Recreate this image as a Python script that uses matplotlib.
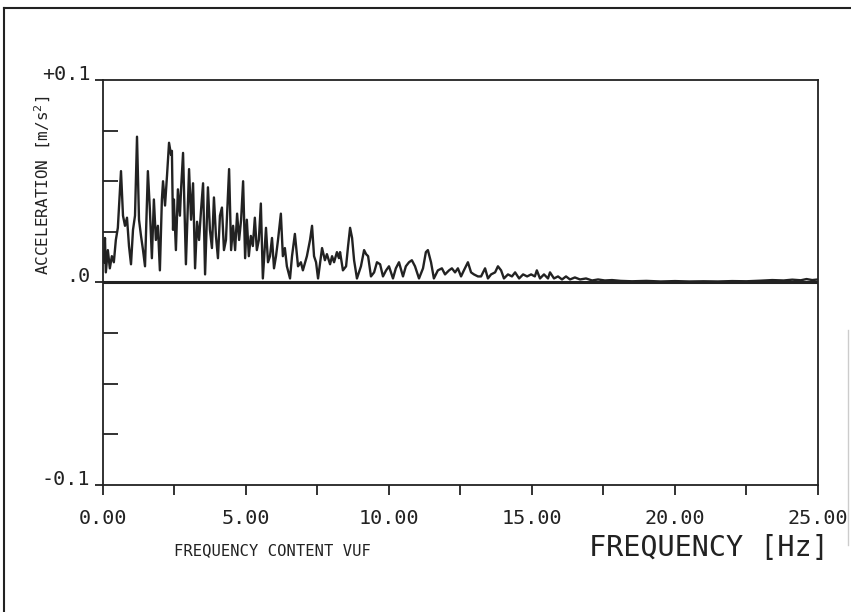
import matplotlib.pyplot as plt
from matplotlib.lines import Line2D

# spectrum (peaks and troughs), Hz / m/s^2
freq = [0.03, 0.07, 0.10, 0.17, 0.24, 0.31, 0.38, 0.45, 0.52, 0.63,
        0.70, 0.77, 0.84, 0.91, 0.98, 1.05, 1.12, 1.19, 1.26, 1.33,
        1.40, 1.47, 1.57, 1.64, 1.71, 1.78, 1.85, 1.92, 1.99, 2.06,
        2.10, 2.17, 2.24, 2.31, 2.38, 2.41, 2.45, 2.48, 2.55, 2.62,
        2.69, 2.73, 2.80, 2.90, 3.01, 3.08, 3.15, 3.22, 3.29, 3.36,
        3.43, 3.50, 3.57, 3.67, 3.74, 3.81, 3.88, 3.95, 4.02, 4.09,
        4.16, 4.23, 4.30, 4.41, 4.48, 4.55, 4.62, 4.69, 4.76, 4.83,
        4.90, 4.97, 5.03, 5.10, 5.17, 5.24, 5.31, 5.38, 5.45, 5.52,
        5.59, 5.70, 5.77, 5.84, 5.91, 5.98, 6.05, 6.12, 6.22, 6.29,
        6.36, 6.43, 6.54, 6.61, 6.71, 6.82, 6.92, 6.99, 7.13, 7.24,
        7.31, 7.38, 7.45, 7.52, 7.66, 7.76, 7.83, 7.94, 8.01, 8.08,
        8.18, 8.25, 8.29, 8.39, 8.50, 8.57, 8.64, 8.71, 8.78, 8.88,
        9.02, 9.13, 9.20, 9.27, 9.37, 9.48, 9.58, 9.69, 9.79, 9.90,
        10.00, 10.14, 10.24, 10.35, 10.49, 10.59, 10.70, 10.80, 10.91, 11.05,
        11.19, 11.29, 11.36, 11.47, 11.57, 11.71, 11.85, 11.96, 12.10, 12.20,
        12.31, 12.41, 12.52, 12.62, 12.76, 12.87, 12.97, 13.11, 13.22, 13.36,
        13.46, 13.57, 13.71, 13.81, 13.92, 14.02, 14.16, 14.30, 14.41, 14.55,
        14.69, 14.83, 14.97, 15.10, 15.17, 15.28, 15.42, 15.56, 15.63, 15.77,
        15.91, 16.05, 16.19, 16.33, 16.50, 16.68, 16.89, 17.10, 17.31, 17.55,
        17.80, 18.10, 18.50, 19.00, 19.50, 20.00, 20.50, 21.00, 21.50, 22.00,
        22.50, 23.00, 23.40, 23.80, 24.10, 24.40, 24.60, 24.80, 25.00]
accel = [0.010, 0.022, 0.005, 0.016, 0.007, 0.013, 0.010, 0.021, 0.027, 0.055,
         0.033, 0.028, 0.032, 0.018, 0.009, 0.026, 0.033, 0.072, 0.031, 0.023,
         0.016, 0.008, 0.055, 0.036, 0.012, 0.041, 0.021, 0.028, 0.006, 0.041,
         0.050, 0.038, 0.053, 0.069, 0.063, 0.065, 0.026, 0.041, 0.016, 0.046,
         0.033, 0.046, 0.064, 0.009, 0.056, 0.031, 0.049, 0.007, 0.030, 0.021,
         0.036, 0.049, 0.004, 0.047, 0.026, 0.017, 0.042, 0.023, 0.012, 0.033,
         0.037, 0.016, 0.021, 0.056, 0.016, 0.028, 0.016, 0.034, 0.021, 0.031,
         0.050, 0.012, 0.031, 0.013, 0.023, 0.018, 0.032, 0.016, 0.021, 0.039,
         0.002, 0.027, 0.010, 0.013, 0.022, 0.007, 0.013, 0.021, 0.034, 0.013,
         0.017, 0.008, 0.002, 0.013, 0.024, 0.008, 0.010, 0.006, 0.013, 0.021,
         0.028, 0.013, 0.010, 0.002, 0.017, 0.011, 0.014, 0.009, 0.013, 0.010,
         0.015, 0.012, 0.015, 0.006, 0.008, 0.018, 0.027, 0.022, 0.011, 0.002,
         0.008, 0.016, 0.014, 0.013, 0.003, 0.005, 0.010, 0.009, 0.003, 0.006,
         0.008, 0.002, 0.007, 0.010, 0.003, 0.008, 0.010, 0.011, 0.008, 0.002,
         0.007, 0.015, 0.016, 0.010, 0.002, 0.006, 0.007, 0.004, 0.006, 0.007,
         0.005, 0.007, 0.003, 0.006, 0.010, 0.005, 0.004, 0.003, 0.003, 0.007,
         0.002, 0.004, 0.005, 0.008, 0.006, 0.002, 0.004, 0.003, 0.005, 0.002,
         0.004, 0.003, 0.004, 0.003, 0.006, 0.002, 0.004, 0.002, 0.005, 0.002,
         0.003, 0.0015, 0.003, 0.0015, 0.0025, 0.0015, 0.002, 0.001, 0.0015, 0.001,
         0.0012, 0.0008, 0.0006, 0.0008, 0.0005, 0.0007, 0.0005, 0.0006, 0.0005, 0.0007,
         0.0006, 0.0009, 0.0012, 0.0010, 0.0014, 0.0011, 0.0017, 0.0012, 0.0015]

xticks = [0, 5, 10, 15, 20, 25]
xtick_labels = ["0.00", "5.00", "10.00", "15.00", "20.00", "25.00"]
yticks = [-0.1, 0.0, 0.1]
ytick_labels = ["-0.1", ".0", "+0.1"]

ink = "#222222"
mono = "DejaVu Sans Mono"

fig = plt.figure(figsize=(8.51, 6.12), dpi=100)
ax = fig.add_axes([0.121, 0.2075, 0.8402, 0.6618])

ax.plot(freq, accel, color=ink, lw=1.7)
ax.axhline(0, color=ink, lw=2.2)

ax.set_xlim(0, 25)
ax.set_ylim(-0.1, 0.1)

for s in ax.spines.values():
    s.set_color(ink)
    s.set_linewidth(1.3)

ax.set_xticks(xticks)
ax.set_xticks([2.5, 7.5, 12.5, 17.5, 22.5], minor=True)
ax.set_xticklabels(xtick_labels, fontfamily=mono, fontsize=14.5, color=ink)
ax.tick_params(axis="x", which="both", direction="out", length=7.5, width=1.3,
               color=ink, pad=10)

ax.set_yticks(yticks)
ax.set_yticks([-0.075, -0.05, -0.025, 0.025, 0.05, 0.075], minor=True)
ax.set_yticklabels(ytick_labels, fontfamily=mono, fontsize=14.5, color=ink)
ax.tick_params(axis="y", which="major", direction="out", length=6, width=1.3,
               color=ink, pad=3)
ax.tick_params(axis="y", which="minor", direction="in", length=11, width=1.3,
               color=ink)
for lab in ax.get_yticklabels():
    lab.set_verticalalignment("baseline")

fig.text(0.05, 0.698, r"ACCELERATION [m/s$^2$]", rotation=90, ha="center",
         va="center", fontfamily=mono, fontsize=11.5, color=ink)
fig.text(0.32, 0.101, "FREQUENCY CONTENT VUF", ha="center", va="center",
         fontfamily=mono, fontsize=11.2, color=ink)
fig.text(0.833, 0.104, "FREQUENCY [Hz]", ha="center", va="center",
         fontfamily=mono, fontsize=20.5, color=ink)

# page frame
fig.add_artist(Line2D([0.005, 0.005], [0, 0.987], transform=fig.transFigure,
                      color=ink, lw=1.5))
fig.add_artist(Line2D([0.005, 1], [0.987, 0.987], transform=fig.transFigure,
                      color=ink, lw=1.5))
fig.add_artist(Line2D([0.9965, 0.9965], [0.11, 0.46], transform=fig.transFigure,
                      color="#cccccc", lw=1))

fig.savefig("out.png", dpi=100)
